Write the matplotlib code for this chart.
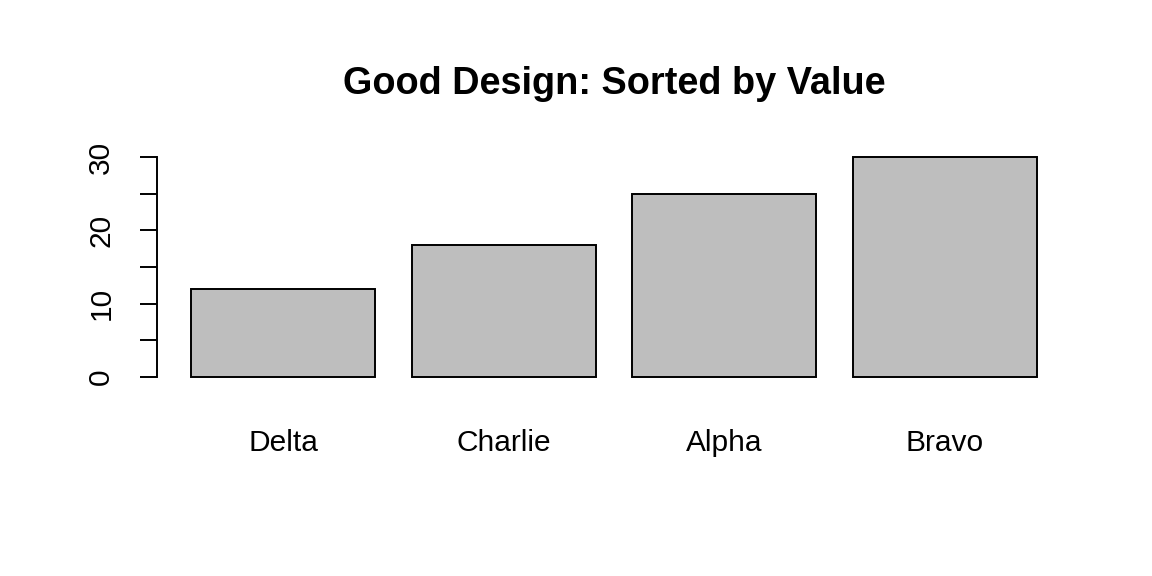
import matplotlib
matplotlib.use("Agg")
from matplotlib import pyplot as plt
import numpy as np

categories = ["Delta", "Charlie", "Alpha", "Bravo"]
values = [12, 18, 25, 30]
y_major = [0, 10, 20, 30]
y_minor = [5, 15, 25]

plt.rcParams['font.family'] = ['Liberation Sans', 'DejaVu Sans']

fig = plt.figure(figsize=(11.52, 5.76), dpi=100)
ax = fig.add_axes([0.1365, 0.3302, 0.793, 0.4125])

# barplot style: width 1, space 0.2
x = 0.2 + 1.2 * np.arange(len(values)) + 0.5
ax.bar(x, values, width=1.0, color="#BEBEBE", edgecolor="black", linewidth=1.4)

ax.set_xlim(0.016, 4.984)
ax.set_ylim(-1.2, 31.2)

for s in ["top", "right", "bottom"]:
    ax.spines[s].set_visible(False)
ax.spines["left"].set_bounds(0, 30)
ax.spines["left"].set_linewidth(1.4)

ax.set_yticks(y_major)
ax.set_yticks(y_minor, minor=True)
ax.tick_params(axis="y", which="both", length=12.2, width=1.4, direction="out",
               labelsize=21.5, pad=18)
for lab in ax.get_yticklabels():
    lab.set_rotation(90)
    lab.set_va("center")

ax.set_xticks(x)
ax.set_xticklabels(categories)
ax.tick_params(axis="x", length=0, labelsize=21.5, pad=31)

ax.set_title("Good Design: Sorted by Value", fontsize=27.3, fontweight="bold", pad=39)

fig.savefig("out.png", dpi=100)
